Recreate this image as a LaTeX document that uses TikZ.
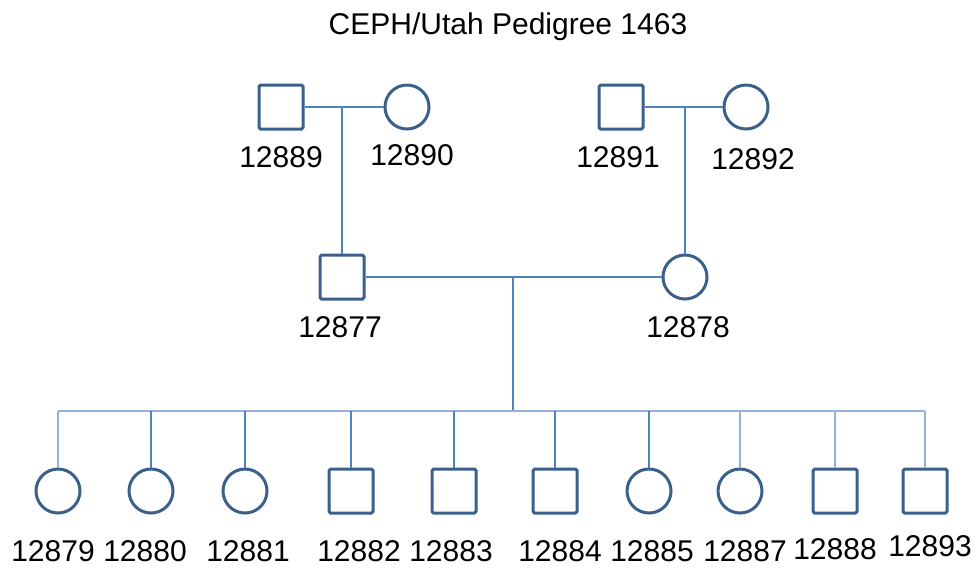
\documentclass[tikz,border=0pt]{standalone}
\usepackage{fontspec}
\setmainfont{Liberation Sans}
\usepackage{xcolor}
\usepackage{tikz}
\usetikzlibrary{positioning}

\definecolor{linkblue}{RGB}{79,129,189}
\definecolor{shapeblue}{RGB}{60,96,140}

\begin{document}
\begin{tikzpicture}[
        x=0.5pt, y=-0.5pt,
        male/.style={
            rectangle,
            draw=shapeblue,
            line width=1.5pt,
            rounded corners=0.8pt,
            minimum size=22pt,
            inner sep=0pt
        },
        female/.style={
            circle,
            draw=shapeblue,
            line width=1.5pt,
            minimum size=22pt,
            inner sep=0pt
        },
        tag/.style={
            inner sep=0pt,
            font=\fontsize{15pt}{18pt}\selectfont
        },
        link/.style={draw=linkblue, line width=1.2pt},
        sibline/.style={draw=linkblue!60, line width=0.9pt}
    ]

    \useasboundingbox (0,0) rectangle (977,570);

    \node (title) [tag] at (508,27) {CEPH/Utah Pedigree 1463};

    % grandparents
    \node (m12889) [male] at (281,107) {};
    \node (f12890) [female] at (407,107) {};
    \node (m12891) [male] at (621,107) {};
    \node (f12892) [female] at (746,107) {};

    \node (l12889) [tag, below=8pt of m12889] {12889};
    \node (l12890) [tag, below=7pt of f12890, xshift=2.5pt] {12890};
    \node (l12891) [tag, below=8pt of m12891, xshift=-1.5pt] {12891};
    \node (l12892) [tag, below=9pt of f12892, xshift=3.5pt] {12892};

    % parents
    \node (m12877) [male] at (342,277) {};
    \node (f12878) [female] at (685,277) {};

    \node (l12877) [tag, below=8pt of m12877, xshift=-1pt] {12877};
    \node (l12878) [tag, below=8pt of f12878, xshift=1.5pt] {12878};

    % children
    \node (c12879) [female] at (58,491) {};
    \node (c12880) [female] at (151,491) {};
    \node (c12881) [female] at (245,491) {};
    \node (c12882) [male] at (351,491) {};
    \node (c12883) [male] at (454,491) {};
    \node (c12884) [male] at (555,491) {};
    \node (c12885) [female] at (649,491) {};
    \node (c12887) [female] at (740,491) {};
    \node (c12888) [male] at (835,491) {};
    \node (c12893) [male] at (925,491) {};

    \node (l12879) [tag, below=13pt of c12879, xshift=-2.5pt] {12879};
    \node (l12880) [tag, below=13pt of c12880, xshift=-3pt] {12880};
    \node (l12881) [tag, below=13pt of c12881, xshift=1.5pt] {12881};
    \node (l12882) [tag, below=13pt of c12882, xshift=4pt] {12882};
    \node (l12883) [tag, below=13pt of c12883, xshift=-1.5pt] {12883};
    \node (l12884) [tag, below=13pt of c12884, xshift=2.5pt] {12884};
    \node (l12885) [tag, below=13pt of c12885, xshift=1.5pt] {12885};
    \node (l12887) [tag, below=13pt of c12887, xshift=2.5pt] {12887};
    \node (l12888) [tag, below=12pt of c12888] {12888};
    \node (l12893) [tag, below=10.5pt of c12893, xshift=2.5pt] {12893};

    % marriages and descent
    \coordinate (drop1) at (342,107);
    \coordinate (drop2) at (685,107);
    \coordinate (drop3) at (513,277);
    \coordinate (sib) at (513,411);

    \draw [link] (m12889) -- (f12890);
    \draw [link] (m12891) -- (f12892);
    \draw [link] (drop1) -- (m12877);
    \draw [link] (drop2) -- (f12878);
    \draw [link] (m12877) -- (f12878);
    \draw [link] (drop3) -- (sib);

    \draw [sibline] (c12879 |- sib) -- (c12893 |- sib);
    \draw [sibline] (c12879 |- sib) -- (c12879);
    \draw [link] (c12880 |- sib) -- (c12880);
    \draw [link] (c12881 |- sib) -- (c12881);
    \draw [link] (c12882 |- sib) -- (c12882);
    \draw [link] (c12883 |- sib) -- (c12883);
    \draw [link] (c12884 |- sib) -- (c12884);
    \draw [link] (c12885 |- sib) -- (c12885);
    \draw [sibline] (c12887 |- sib) -- (c12887);
    \draw [sibline] (c12888 |- sib) -- (c12888);
    \draw [sibline] (c12893 |- sib) -- (c12893);

\end{tikzpicture}
\end{document}
